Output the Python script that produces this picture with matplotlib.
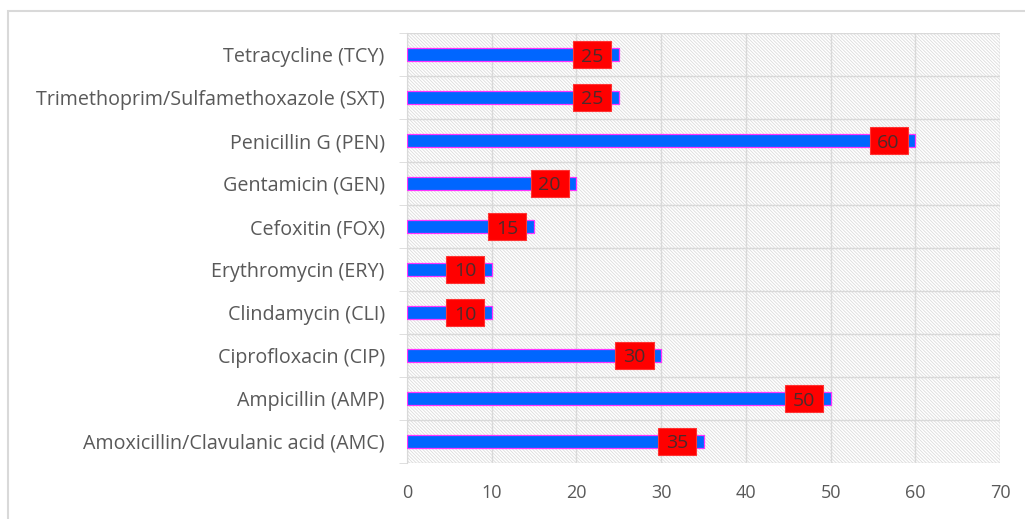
import matplotlib
matplotlib.use("Agg")
import matplotlib.pyplot as plt
from matplotlib.patches import Rectangle

# antibiotics, bottom to top
drugs = [
    "Amoxicillin/Clavulanic acid (AMC)",
    "Ampicillin (AMP)",
    "Ciprofloxacin (CIP)",
    "Clindamycin (CLI)",
    "Erythromycin (ERY)",
    "Cefoxitin (FOX)",
    "Gentamicin (GEN)",
    "Penicillin G (PEN)",
    "Trimethoprim/Sulfamethoxazole (SXT)",
    "Tetracycline (TCY)",
]
resistance = [35, 50, 30, 10, 10, 15, 20, 60, 25, 25]
xticks = [0, 10, 20, 30, 40, 50, 60, 70]

plt.rcParams["font.family"] = ["Open Sans", "DejaVu Sans"]
plt.rcParams["hatch.linewidth"] = 0.6
txt = "#595959"
grid = "#d9d9d9"

fig = plt.figure(figsize=(10.25, 5.19), dpi=100)
fig.patches.append(Rectangle((8 / 1025, -0.05), 1.2, 1 - 11 / 519 + 0.05,
                             transform=fig.transFigure, fill=False,
                             edgecolor=grid, lw=1.5))
ax = fig.add_axes([407 / 1025, 1 - 463 / 519, 593 / 1025, 430 / 519])

ax.set_facecolor("white")
ax.patch.set_hatch("\\" * 10)
ax.patch.set_edgecolor("#dcdcdc")

y = list(range(len(drugs)))
ax.barh(y, resistance, height=0.3, color="#0066ff", edgecolor="#ff33ff",
        linewidth=0.9, zorder=3)

# red value boxes sit inside the bar end
for yi, v in zip(y, resistance):
    ax.add_patch(Rectangle((v - 5.4, yi - 0.32), 4.5, 0.64, fc="#ff0000",
                           ec="#ff3333", lw=0.8, zorder=4))
    ax.text(v - 3.15, yi, str(v), ha="center", va="center_baseline",
            fontsize=14, color="#4d2b2b", zorder=5)

ax.set_xlim(0, 70)
ax.set_ylim(-0.5, len(drugs) - 0.5)
ax.set_xticks(xticks)
ax.set_yticks(y)
ax.set_yticklabels(drugs)
ax.set_yticks([i - 0.5 for i in range(len(drugs) + 1)], minor=True)

ax.grid(axis="x", color=grid, lw=1, zorder=1)
ax.grid(axis="y", which="minor", color=grid, lw=1, zorder=1)
for s in ["top", "right", "bottom"]:
    ax.spines[s].set_visible(False)
ax.spines["left"].set_color(grid)

ax.tick_params(axis="y", which="major", length=0, pad=16, labelsize=14.2,
               labelcolor=txt)
ax.tick_params(axis="y", which="minor", length=6, color=grid)
ax.tick_params(axis="x", length=0, pad=15, labelsize=13, labelcolor=txt)

fig.savefig("out.png", dpi=100)
